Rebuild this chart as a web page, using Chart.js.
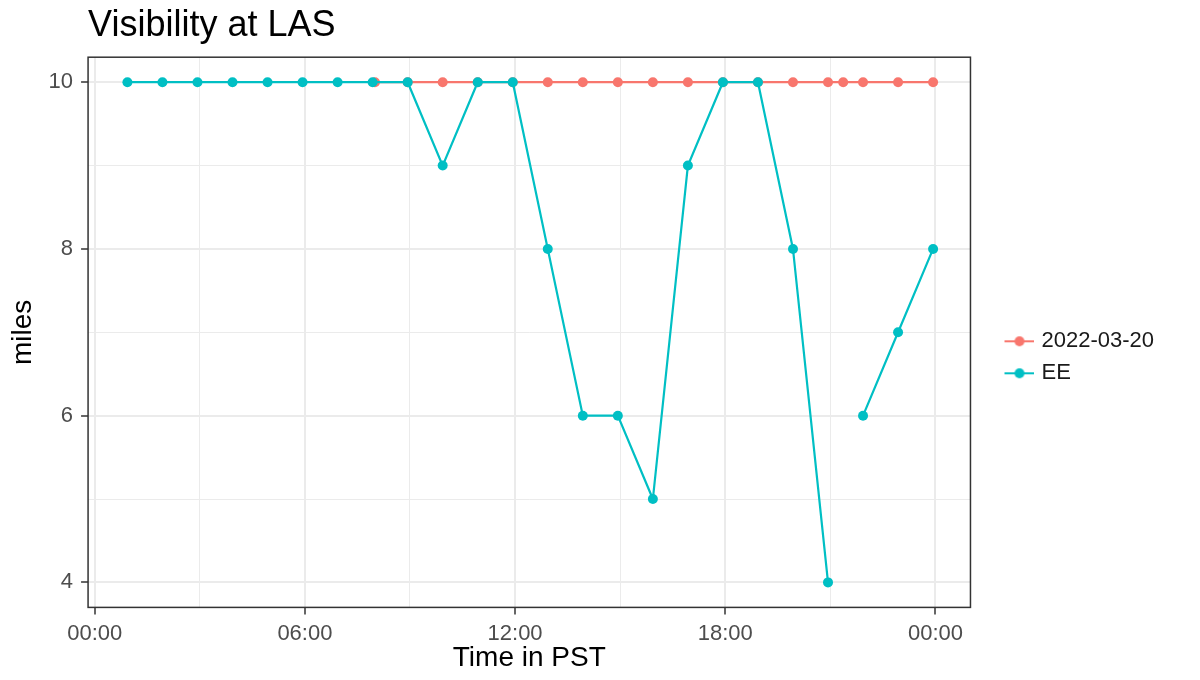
<!DOCTYPE html>
<html>
<head>
<meta charset="utf-8">
<script src="https://cdn.jsdelivr.net/npm/chart.js@4"></script>
<style>
  html, body { margin: 0; padding: 0; background: #fff; }
  #wrap { width: 1200px; height: 680px; }
</style>
</head>
<body>
<div id="wrap"><canvas id="chart" width="1200" height="680"></canvas></div>
<script>
// values
const seriesNames = ["2022-03-20", "EE"];
const seriesColors = ["#F8766D", "#00BFC4"];

const dayTimes = ["08:00", "08:56", "09:56", "10:56", "11:56", "12:56", "13:56", "14:56", "15:56",
  "16:56", "17:56", "18:56", "19:56", "20:56", "21:22", "21:56", "22:56", "23:56"];
const dayValues = [10, 10, 10, 10, 10, 10, 10, 10, 10, 10, 10, 10, 10, 10, 10, 10, 10, 10];

const eeTimes = ["00:56", "01:56", "02:56", "03:56", "04:56", "05:56", "06:56", "07:56",
  "08:56", "09:56", "10:56", "11:56", "12:56", "13:56", "14:56", "15:56", "16:56", "17:56",
  "18:56", "19:56", "20:56", "21:22", "21:56", "22:56", "23:56"];
const eeValues = [10, 10, 10, 10, 10, 10, 10, 10,
  10, 9, 10, 10, 8, 6, 6, 5, 9, 10,
  10, 8, 4, null, 6, 7, 8];

const xTicks = [0, 3, 6, 9, 12, 15, 18, 21, 24];   // hours, every 6 labelled
const yTicks = [4, 5, 6, 7, 8, 9, 10];             // even ones labelled

function toHours(t) {
  const p = t.split(":");
  return +p[0] + (+p[1]) / 60;
}

function points(times, values) {
  return times.map((t, i) => ({ x: toHours(t), y: values[i] }));
}

function hourLabel(h) {
  const hh = h % 24;
  return (hh < 10 ? "0" : "") + hh + ":00";
}

// legend key: short line with a dot, like ggplot
function legendKey(color) {
  const c = document.createElement("canvas");
  c.width = 58;
  c.height = 12;
  const g = c.getContext("2d");
  g.strokeStyle = color;
  g.lineWidth = 2;
  g.beginPath();
  g.moveTo(28, 6);
  g.lineTo(58, 6);
  g.stroke();
  g.fillStyle = color;
  g.beginPath();
  g.arc(43, 6, 5, 0, Math.PI * 2);
  g.fill();
  return c;
}
const keys = seriesColors.map(legendKey);

// full panel border (theme_bw)
const panelBorder = {
  id: "panelBorder",
  afterDraw(chart) {
    const a = chart.chartArea;
    const ctx = chart.ctx;
    ctx.save();
    ctx.strokeStyle = "#333333";
    ctx.lineWidth = 1.5;
    ctx.strokeRect(a.left, a.top, a.right - a.left, a.bottom - a.top);
    ctx.restore();
  }
};

const font = "'Liberation Sans', Arial, sans-serif";

function isMajorX(v) { return v % 6 === 0; }
function isMajorY(v) { return v % 2 === 0; }

new Chart(document.getElementById("chart").getContext("2d"), {
  type: "line",
  data: {
    datasets: [
      {
        label: seriesNames[0],
        data: points(dayTimes, dayValues),
        borderColor: seriesColors[0],
        backgroundColor: seriesColors[0],
        borderWidth: 2.2,
        pointRadius: 5,
        pointBorderWidth: 0,
        pointStyle: "circle",
        order: 1
      },
      {
        label: seriesNames[1],
        data: points(eeTimes, eeValues),
        borderColor: seriesColors[1],
        backgroundColor: seriesColors[1],
        borderWidth: 2.2,
        pointRadius: 5,
        pointBorderWidth: 0,
        pointStyle: "circle",
        spanGaps: false,
        order: 0
      }
    ]
  },
  options: {
    responsive: false,
    animation: false,
    layout: { padding: { left: 4, right: 36, top: 0, bottom: 0 } },
    plugins: {
      title: {
        display: true,
        text: "Visibility at LAS",
        align: "start",
        fullSize: false,
        color: "#000",
        font: { family: font, size: 36, weight: "normal" },
        padding: { top: 4, bottom: 10 }
      },
      legend: {
        position: "right",
        fullSize: false,
        title: { display: true, text: " ", font: { size: 20, lineHeight: 1.2 }, padding: { top: 13, bottom: 13 } },
        labels: {
          usePointStyle: true,
          pointStyleWidth: 50,
          padding: 10,
          color: "#1a1a1a",
          font: { family: font, size: 22, lineHeight: 1 },
          sort: (a, b) => a.datasetIndex - b.datasetIndex,
          generateLabels: (chart) => chart.data.datasets.map((ds, i) => ({
            text: ds.label,
            pointStyle: keys[i],
            datasetIndex: i,
            fillStyle: ds.borderColor,
            strokeStyle: ds.borderColor,
            lineWidth: 0,
            fontColor: "#1a1a1a"
          }))
        }
      },
      tooltip: { enabled: false }
    },
    scales: {
      x: {
        type: "linear",
        min: -0.19,
        max: 25.0,
        afterBuildTicks: (s) => { s.ticks = xTicks.map(v => ({ value: v })); },
        ticks: {
          autoSkip: false,
          maxRotation: 0,
          padding: 9,
          color: "#4d4d4d",
          font: { family: font, size: 22, lineHeight: 1 },
          callback: (v) => isMajorX(v) ? hourLabel(v) : ""
        },
        grid: {
          color: "#ebebeb",
          lineWidth: (c) => isMajorX(c.tick.value) ? 2 : 1,
          tickLength: 7,
          tickWidth: 1.5,
          tickColor: (c) => isMajorX(c.tick.value) ? "#333333" : "rgba(0,0,0,0)"
        },
        border: { display: false },
        title: {
          display: true,
          text: "Time in PST",
          color: "#000",
          font: { family: font, size: 28 },
          padding: { top: -13, bottom: 5 }
        }
      },
      y: {
        min: 3.7,
        max: 10.3,
        afterBuildTicks: (s) => { s.ticks = yTicks.map(v => ({ value: v })); },
        ticks: {
          autoSkip: false,
          padding: 8,
          color: "#4d4d4d",
          font: { family: font, size: 22 },
          callback: (v) => isMajorY(v) ? String(v) : ""
        },
        grid: {
          color: "#ebebeb",
          lineWidth: (c) => isMajorY(c.tick.value) ? 2 : 1,
          tickLength: 7,
          tickWidth: 1.5,
          tickColor: (c) => isMajorY(c.tick.value) ? "#333333" : "rgba(0,0,0,0)"
        },
        border: { display: false },
        title: {
          display: true,
          text: "miles",
          color: "#000",
          font: { family: font, size: 28 },
          padding: { top: 2, bottom: 1 }
        }
      }
    }
  },
  plugins: [panelBorder]
});
</script>
</body>
</html>
